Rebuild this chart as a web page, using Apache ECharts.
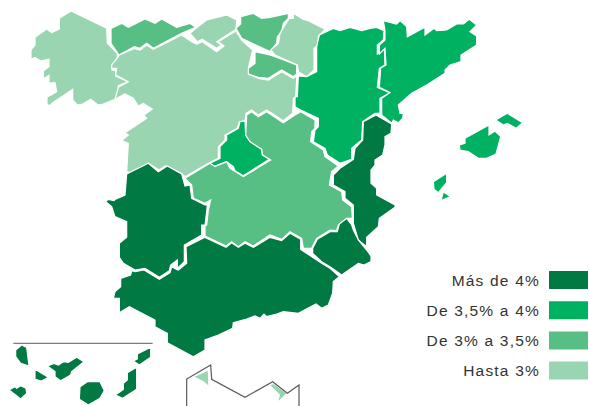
<!DOCTYPE html>
<html><head><meta charset="utf-8">
<style>html,body{margin:0;background:#fff}#c{width:589px;height:406px}svg text{letter-spacing:1.2px}</style>
<script src="https://cdn.jsdelivr.net/npm/echarts@6/dist/echarts.min.js"></script>
</head><body><div id="c"></div>
<script>
// Value classes (only the class of each region can be read)
const classLabels = ['Más de 4%', 'De 3,5% a 4%', 'De 3% a 3,5%', 'Hasta 3%'];
const classRanks  = [4, 3, 2, 1];
const classColors = ['#007A42', '#00B162', '#57BF84', '#9AD5B2'];
const regionNames = ['Galicia','Asturias','Cantabria','País Vasco','La Rioja','Navarra','Aragón','Cataluña','Comunidad Valenciana','Baleares','Madrid','Castilla y León','Extremadura','Castilla-La Mancha','Murcia','Andalucía','Canarias','Ceuta','Melilla'];
const regionClass = [1,2,1,2,2,1,3,3,4,3,3,1,4,2,4,4,4,1,1];

// Map outlines (3x pixel frame; segments with offsets)
const F1=[0,0], F2=[870,0], F3=[270,450], F4=[0,990];
const seg=(f,p)=>{const o=[];for(let i=0;i<p.length;i+=2)o.push([(p[i]+f[0])/3,(p[i+1]+f[1])/3]);return o;};
const shapes={
 'Galicia':[seg(F1,[213,33,320,85,322,130,352,160,352,180,336,195,336,210,347,212,347,228,385,245,355,257,352,295,310,312,294,315,272,298,248,312,232,315,218,300,218,268,155,310,153,315,141,315,141,292,170,275,165,248,147,250,147,226,130,237,130,212,147,200,147,178,122,183,105,172,93,178,93,150,105,135,105,112,140,87,155,98,178,87,178,55])],
 'Asturias':[seg(F1,[333,85,365,70,385,82,435,57,465,70,485,57,530,82,570,70,587,82,545,100,460,145,440,130,420,145,403,140,357,165,333,130])],
 'Cantabria':[seg(F1,[570,100,600,75,620,60,660,50,680,45,710,60,708,88,650,125,665,135,650,145,607,118,592,125])],
 'País Vasco':[seg(F1,[722,50,760,40,785,55,810,52,865,40,865,55,850,70,845,95,832,110,830,130,810,155,725,115,708,85,722,72])],
 'La Rioja':[seg(F1,[765,155,810,165,825,170,890,195,890,222,880,230,845,210,805,235,775,232,745,222,745,205,765,190])],
 'Navarra':[seg(F1,[880,40,910,58,925,62,975,88,955,110,955,135,942,145,942,210,920,230,895,215,892,195,825,165,812,150,835,130,840,100,855,75,868,55,880,55])],
 'Aragón':[seg(F2,[130,85,150,92,180,82,215,92,240,85,260,82,282,92,280,120,262,135,262,162,283,145,285,195,268,205,262,262,300,278,270,295,270,340,255,340,218,365,215,420,185,445,185,478,150,490,112,465,105,445,70,425,75,390,85,380,85,355,32,330,15,320,15,290,22,290,25,228,50,230,80,215,80,140,88,105])],
 'Cataluña':[seg(F2,[280,62,320,72,330,62,350,80,352,110,405,82,405,105,432,85,440,92,470,90,500,72,520,72,538,58,560,75,540,95,560,108,560,135,513,165,513,185,480,195,465,210,465,220,410,255,365,280,325,315,330,340,340,340,338,355,325,368,310,360,305,370,275,345,275,295,300,278,268,262,272,205,288,195,285,145,268,162,268,135,285,120,285,92])],
 'Comunidad Valenciana':[seg(F2,[258,345,305,372,303,400,285,410,285,435,278,465,255,480,255,495,243,510,243,550,260,565,260,585,315,615]).concat(seg(F3,[915,172,868,205,865,230,830,262,830,290,805,270,790,220,790,165,765,145,765,125,730,105,730,75,750,55]),seg(F2,[190,478,195,445,218,420,220,365]))],
 'Baleares':[seg(F2,[597,375,597,405,615,393,632,410,618,462,590,475,565,475,540,458,535,455,510,450,508,435,525,430,525,415]),seg(F2,[617,360,652,340,698,368,678,385,652,370,640,375]),seg(F2,[470,520,470,548,445,578,432,568,430,545]),seg(F2,[460,575,482,590,453,602])],
 'Madrid':[seg(F1,[735,362,737,405,750,425,785,448,787,465,808,478,730,527,705,512,700,500,680,485,640,500,630,490,660,475,660,440,680,420,680,405,715,385,720,365])],
 'Castilla y León':[seg(F1,[358,165,403,145,420,150,440,135,460,148,545,105,575,125,590,132,607,125,650,155,672,138,655,125,708,93,725,120,758,150,745,205,745,222,775,235,805,240,845,215,880,235,890,228,890,240,887,290,880,295,878,340,850,362,800,330,775,345,755,330,738,340,735,362,718,365,712,385,675,405,675,420,655,440,655,475,625,490,555,530,545,520,495,498,478,510,445,490,395,520,380,515,385,430,365,422,385,405,375,398,440,355,432,345,457,327,430,310,415,318,400,295,375,282,345,298,355,262,385,245,347,225,350,205,335,205,335,195,355,170])],
 'Extremadura':[seg(F3,[110,72,175,40,205,65,232,48,275,72,285,108,300,105,305,145,345,165,352,165,350,185,345,225,335,225,335,255,283,285,283,335,262,355,262,330,242,345,238,362,208,382,165,355,135,360,100,340,88,322,88,280,110,262,110,215,75,200,65,170,47,155,55,148,72,152,75,148,105,135])],
 'Castilla-La Mancha':[seg(F3,[285,85,360,40,375,50,410,35,420,55,460,80,542,30]).concat(seg(F1,[788,465,785,448,750,425,737,405,740,345,755,335,775,350,800,335,850,368,885,345]),seg(F2,[32,335,75,360,75,385,65,395,62,425,100,450,105,470,145,498]),seg(F3,[725,65,718,105,755,125,758,150,785,170,787,205,770,205,745,225,740,242,720,240,680,265,665,295,640,295,635,265,600,245,575,268,540,255,490,288,465,275,445,290,425,275,408,288,345,258,345,228,350,225,355,180,362,150,345,160,310,145,305,105]))],
 'Murcia':[seg(F3,[770,205,785,225,790,240,805,270,830,300,843,318,843,335,822,345,805,340,755,375,720,350,695,335,668,310,668,295,682,268,720,245,742,245,748,222])],
 'Andalucía':[seg(F3,[345,262,408,292,425,278,445,292,465,280,490,292,540,262,575,272,600,250,632,268,632,298,695,340,720,355,748,380,730,395,728,430,715,465,695,475,678,462,625,490,580,485,560,492,530,500,522,492,510,505,495,498,470,507,430,518,428,535,385,555,345,570,345,600,310,620,232,578,232,550,195,530,195,510,118,470,88,488,88,445,70,445,75,425,92,410,92,385,122,375,125,362,135,365,162,360,208,388,240,368,245,350,260,358,265,360,290,340,288,290])],
 'Canarias':[seg(F4,[65,45,80,52,87,108,62,100,47,80,47,60]),seg(F4,[105,118,145,142,125,153,105,148]),seg(F4,[142,108,162,100,175,105,190,95,205,97,230,82,252,95,215,125,212,135,182,152,165,140,165,125]),seg(F4,[27,180,45,170,50,175,62,167,78,175,80,190,62,207,40,190]),seg(F4,[240,170,262,155,300,155,313,182,300,205,265,225,238,208]),seg(F4,[410,112,410,178,368,205,346,195,370,178,370,160,382,150,382,128]),seg(F4,[452,52,452,82,418,105,400,93,412,87,412,72])],
 'Ceuta':[seg(F4,[580,140,625,120,627,170,610,155])],
 'Melilla':[seg(F4,[808,165,820,160,862,190,832,218,838,195])]
};
const canariasFrame=seg(F4,[40,40,458,40]);
const northAfricaCoast=seg(F4,[560,228,560,147,632,105,635,148,735,202,818,155,862,190,897,165,897,228]);

const geoJson={type:'FeatureCollection',features:regionNames.map(n=>({type:'Feature',properties:{name:n},geometry:{type:'MultiPolygon',coordinates:shapes[n].map(r=>[r.concat([r[0]])])}}))};
echarts.registerMap('espana',geoJson);
const identity={project:p=>p,unproject:p=>p};
const chart=echarts.init(document.getElementById('c'),null,{renderer:'svg'});
chart.setOption({
 animation:false,
 backgroundColor:'#fff',
 geo:{map:'espana',projection:identity,boundingCoords:[[0,0],[589,406]],left:0,top:0,width:589,height:406,roam:false,silent:true,
  label:{show:false},itemStyle:{areaColor:'#fff',borderColor:'#fff',borderWidth:1.2},emphasis:{disabled:true}},
 visualMap:{type:'piecewise',seriesIndex:0,orient:'vertical',align:'right',right:1,top:271,padding:0,itemWidth:39,itemHeight:18,itemGap:12.2,textGap:9,itemSymbol:'rect',hoverLink:false,selectedMode:false,
  textStyle:{fontFamily:'Liberation Sans',fontSize:15.5,color:'#333'},
  pieces:classRanks.map((v,i)=>({value:v,label:classLabels[i],color:classColors[i]}))},
 series:[
  {type:'map',geoIndex:0,silent:true,data:regionNames.map((n,i)=>({name:n,value:regionClass[i]}))},
  {type:'lines',coordinateSystem:'geo',polyline:true,silent:true,lineStyle:{color:'#7c7c7c',width:1.2,opacity:1},data:[{coords:canariasFrame}]},
  {type:'lines',coordinateSystem:'geo',polyline:true,silent:true,lineStyle:{color:'#5a5a5a',width:1.2,opacity:1},data:[{coords:northAfricaCoast}]}
 ]
});
</script></body></html>
